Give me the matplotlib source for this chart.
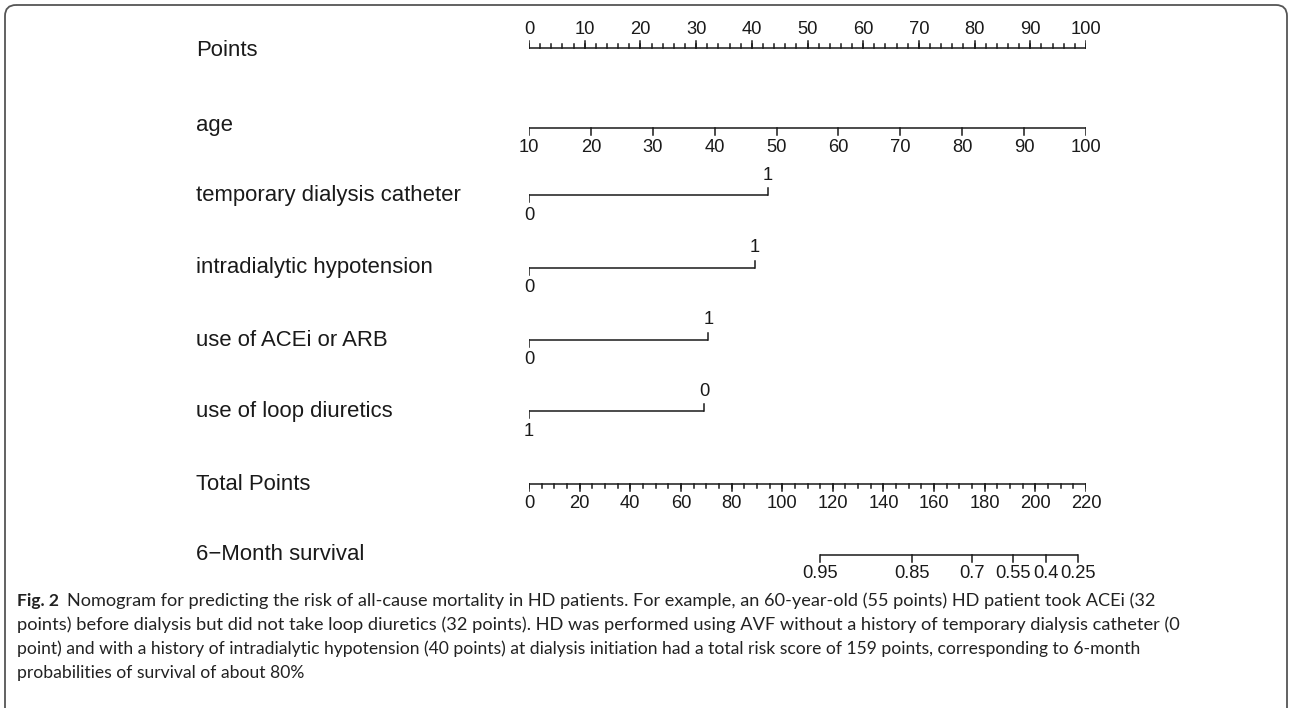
import matplotlib
matplotlib.use('Agg')
import matplotlib.pyplot as plt
from matplotlib.patches import FancyBboxPatch

# ---------------- data ----------------
points_ticks = [0, 10, 20, 30, 40, 50, 60, 70, 80, 90, 100]
points_minor_step = 2
age_ticks = [10, 20, 30, 40, 50, 60, 70, 80, 90, 100]
age_min, age_max = 10, 100
tdc_levels = ['0', '1']
tdc_points = [0, 42.9]
idh_levels = ['0', '1']
idh_points = [0, 40.6]
acei_levels = ['0', '1']
acei_points = [0, 32.2]
loop_levels = ['1', '0']
loop_points = [0, 31.4]
total_ticks = [0, 20, 40, 60, 80, 100, 120, 140, 160, 180, 200, 220]
total_minor_step = 5
total_max = 220
surv_labels = ['0.95', '0.85', '0.7', '0.55', '0.4', '0.25']
surv_total = [114.9, 151.3, 175.0, 191.2, 204.2, 216.8]

row_names = ['Points', 'age', 'temporary dialysis catheter', 'intradialytic hypotension',
             'use of ACEi or ARB', 'use of loop diuretics', 'Total Points', '6\u2212Month survival']

caption_bold = 'Fig. 2'
caption_lines = [
    'Nomogram for predicting the risk of all-cause mortality in HD patients. For example, an 60-year-old (55 points) HD patient took ACEi (32',
    'points) before dialysis but did not take loop diuretics (32 points). HD was performed using AVF without a history of temporary dialysis catheter (0',
    'point) and with a history of intradialytic hypotension (40 points) at dialysis initiation had a total risk score of 159 points, corresponding to 6-month',
    'probabilities of survival of about 80%',
]

# ---------------- layout ----------------
W, H = 1290, 708
fig = plt.figure(figsize=(W / 100, H / 100), dpi=100)
bg = fig.add_axes([0, 0, 1, 1])
bg.set_xlim(0, W)
bg.set_ylim(H, 0)
bg.axis('off')

x0, x1 = 529, 1086
ax = fig.add_axes([x0 / W, 0, (x1 - x0) / W, 1])
ax.set_xlim(0, 100)
ax.set_ylim(H, 0)
ax.axis('off')

row_y = [48, 128, 195, 268, 340, 411, 484, 555]
label_y = [51, 125, 195, 268, 340, 411, 484, 554]
LC = '#1a1a1a'
LW = 1.1
MAJ, MIN = 7, 4
TFS = 13.2   # tick labels
NFS = 15.9   # row names
FONT = 'Liberation Sans'
LAB_OFF = 19


def scale_row(y, pos, labels, side, minor=None):
    d = -1 if side == 'above' else 1
    ax.plot([min(pos), max(pos)], [y, y], color=LC, lw=LW, solid_capstyle='butt')
    if minor is not None:
        for m in minor:
            ax.plot([m, m], [y, y + d * MIN], color=LC, lw=LW)
    for p, lab in zip(pos, labels):
        ax.plot([p, p], [y, y + d * MAJ], color=LC, lw=LW)
        ax.text(p, y + d * LAB_OFF, lab, ha='center', va='center', fontsize=TFS,
                family=FONT, color=LC)


def binary_row(y, pos, labels):
    ax.plot([min(pos), max(pos)], [y, y], color=LC, lw=LW, solid_capstyle='butt')
    for i, (p, lab) in enumerate(zip(pos, labels)):
        d = 1 if i == 0 else -1
        ax.plot([p, p], [y, y + d * MAJ], color=LC, lw=LW)
        ax.text(p, y + d * (LAB_OFF + 1), lab, ha='center', va='center', fontsize=TFS,
                family=FONT, color=LC)


# Points
pm = [v for v in range(0, 101, points_minor_step)]
scale_row(row_y[0], points_ticks, [str(t) for t in points_ticks], 'above', pm)
# age
age_pos = [(a - age_min) / (age_max - age_min) * 100 for a in age_ticks]
scale_row(row_y[1], age_pos, [str(a) for a in age_ticks], 'below')
# binaries
binary_row(row_y[2], tdc_points, tdc_levels)
binary_row(row_y[3], idh_points, idh_levels)
binary_row(row_y[4], acei_points, acei_levels)
binary_row(row_y[5], loop_points, loop_levels)
# total points
tp = [t / total_max * 100 for t in total_ticks]
tm = [v / total_max * 100 for v in range(0, total_max + 1, total_minor_step)]
scale_row(row_y[6], tp, [str(t) for t in total_ticks], 'below', tm)
# survival
sp = [t / total_max * 100 for t in surv_total]
scale_row(row_y[7], sp, surv_labels, 'below')

# row labels
for name, y in zip(row_names, label_y):
    bg.text(196, y, name, ha='left', va='center', fontsize=NFS, family=FONT, color=LC)

# border
box = FancyBboxPatch((5, 5), 1282, 760, boxstyle='round,pad=0,rounding_size=11',
                     fill=False, ec='#555555', lw=1.3)
bg.add_patch(box)

# caption
CF = 'Lato'
cfs = 12.6
cap_y = [601, 625, 649, 673]
cap_right = [1162, 1187, 1140, None]
renderer = fig.canvas.get_renderer()
tb = bg.text(17, cap_y[0], caption_bold, ha='left', va='center', fontsize=cfs,
             family=CF, weight='bold', color='#222222')
bb = tb.get_window_extent(renderer)
starts = [bb.x1 + 8, 17, 17, 17]
for line, y, xs, xr in zip(caption_lines, cap_y, starts, cap_right):
    t = bg.text(xs, y, line, ha='left', va='center', fontsize=cfs, family=CF,
                color='#222222')
    if xr is not None:
        e = t.get_window_extent(renderer)
        t.set_fontsize(cfs * (xr - xs) / e.width)

fig.savefig('out.png', dpi=100)
